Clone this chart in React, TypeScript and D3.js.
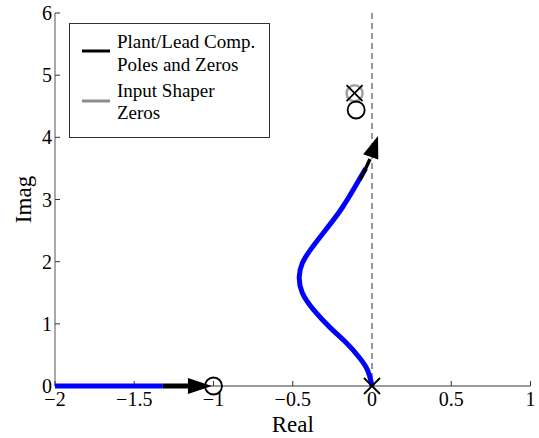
import React from "react";
import * as d3 from "d3";

const W = 539;
const H = 438;

const xTicks = [-2, -1.5, -1, -0.5, 0, 0.5, 1];
const xTickLabels = ["\u22122", "\u22121.5", "\u22121", "\u22120.5", "0", "0.5", "1"];
const yTicks = [0, 1, 2, 3, 4, 5, 6];
const yTickLabels = ["0", "1", "2", "3", "4", "5", "6"];

// complex branch of root locus (blue), from pole at origin
const locusReal = [0, -0.02, -0.075, -0.16, -0.26, -0.375, -0.45, -0.465, -0.445, -0.391, -0.29, -0.19, -0.085, -0.04];
const locusImag = [0, 0.25, 0.45, 0.7, 0.92, 1.23, 1.5, 1.76, 1.98, 2.19, 2.52, 2.84, 3.3, 3.5];
// arrow at end of complex branch
const arrowUpReal = [-0.075, -0.04, -0.013, 0.038];
const arrowUpImag = [3.32, 3.5, 3.65, 4.02];
// real-axis branch
const realBranchReal = [-2, -1.32];
const realArrowReal = [-1.32, -1.01];

// markers
const polesReal = [0, -0.11];
const polesImag = [0, 4.71];
const zerosReal = [-1, -0.1];
const zerosImag = [0, 4.44];
const shaperZerosReal = [-0.11];
const shaperZerosImag = [4.71];

const legendLabels = [["Plant/Lead Comp.", "Poles and Zeros"], ["Input Shaper", "Zeros"]];
const legendColors = ["#000000", "#8c8c8c"];

export default function App() {
  const x = d3.scaleLinear().domain([-2, 1]).range([55, 530.5]);
  const y = d3.scaleLinear().domain([0, 6]).range([386, 13]);

  const line = d3
    .line<[number, number]>()
    .x((d) => x(d[0]))
    .y((d) => y(d[1]))
    .curve(d3.curveBasis);

  const locusPts: [number, number][] = locusReal.map((r, i) => [r, locusImag[i]]);
  const arrowPts: [number, number][] = arrowUpReal.map((r, i) => [r, arrowUpImag[i]]);

  const arrowHead = (x0: number, y0: number, x1: number, y1: number, len: number, hw: number) => {
    const dx = x1 - x0;
    const dy = y1 - y0;
    const L = Math.sqrt(dx * dx + dy * dy);
    const ux = dx / L;
    const uy = dy / L;
    const bx = x1 - ux * len;
    const by = y1 - uy * len;
    const px = -uy;
    const py = ux;
    return `M${x1},${y1}L${bx + px * hw},${by + py * hw}L${bx - px * hw},${by - py * hw}Z`;
  };

  const n = arrowUpReal.length;
  const upHead = arrowHead(
    x(arrowUpReal[n - 2]),
    y(arrowUpImag[n - 2]),
    x(arrowUpReal[n - 1]),
    y(arrowUpImag[n - 1]),
    22,
    8
  );
  const realHead = arrowHead(x(realArrowReal[0]), y(0), x(realArrowReal[1]), y(0), 24, 8);
  const arrowLinePts = arrowPts.slice(0, n - 1);
  const arrowLine = d3
    .line<[number, number]>()
    .x((d) => x(d[0]))
    .y((d) => y(d[1]))
    .curve(d3.curveMonotoneY);

  const fontFam = "'Liberation Serif', 'Times New Roman', serif";
  const axisColor = "#7a7a7a";
  const mk = 8;

  return (
    <svg
      width={W}
      height={H}
      style={{ position: "absolute", left: 0, top: 0, background: "#fff" }}
      fontFamily={fontFam}
    >
      <rect x={0} y={0} width={W} height={H} fill="#fff" />
      {/* dashed line at real = 0 */}
      <line x1={x(0)} x2={x(0)} y1={y(6)} y2={y(0)} stroke="#333" strokeWidth={1} strokeDasharray="6,4" />

      {/* axes */}
      <line x1={x(-2)} x2={x(1)} y1={y(0)} y2={y(0)} stroke={axisColor} strokeWidth={1.5} />
      <line x1={x(-2)} x2={x(-2)} y1={y(0)} y2={y(6)} stroke="#555" strokeWidth={1} />
      {xTicks.map((t, i) => (
        <g key={"xt" + i}>
          <line x1={x(t)} x2={x(t)} y1={y(0)} y2={y(0) - 5} stroke="#333" strokeWidth={1} />
          <text x={x(t)} y={y(0) + 20} textAnchor="middle" fontSize={20} fill="#000">
            {xTickLabels[i]}
          </text>
        </g>
      ))}
      {yTicks.map((t, i) => (
        <g key={"yt" + i}>
          <line x1={x(-2)} x2={x(-2) + 5} y1={y(t)} y2={y(t)} stroke="#333" strokeWidth={1} />
          <text x={x(-2) - 3} y={y(t) + 7} textAnchor="end" fontSize={20} fill="#000">
            {yTickLabels[i]}
          </text>
        </g>
      ))}
      <text x={(x(-2) + x(1)) / 2} y={432} textAnchor="middle" fontSize={23} fill="#000">
        Real
      </text>
      <text
        transform={`translate(31,${(y(0) + y(6)) / 2}) rotate(-90)`}
        textAnchor="middle"
        fontSize={23}
        fill="#000"
      >
        Imag
      </text>

      {/* real axis branch */}
      <line
        x1={x(realBranchReal[0])}
        x2={x(realBranchReal[1])}
        y1={y(0)}
        y2={y(0)}
        stroke="#0000ff"
        strokeWidth={5}
      />
      <line
        x1={x(realArrowReal[0])}
        x2={x(realArrowReal[1]) - 20}
        y1={y(0)}
        y2={y(0)}
        stroke="#000"
        strokeWidth={5}
      />
      <path d={realHead} fill="#000" />

      {/* complex branch */}
      <path d={line(locusPts) || ""} fill="none" stroke="#0000ff" strokeWidth={5} strokeLinecap="butt" />
      <path d={arrowLine(arrowLinePts) || ""} fill="none" stroke="#000" strokeWidth={3.5} />
      <path d={upHead} fill="#000" />

      {/* shaper zeros (gray circles) */}
      {shaperZerosReal.map((r, i) => (
        <circle key={"sz" + i} cx={x(r)} cy={y(shaperZerosImag[i])} r={8} fill="none" stroke="#a0a0a0" strokeWidth={2.5} />
      ))}
      {/* zeros */}
      {zerosReal.map((r, i) => (
        <circle key={"z" + i} cx={x(r)} cy={y(zerosImag[i])} r={8.5} fill="none" stroke="#000" strokeWidth={1.8} />
      ))}
      {/* poles */}
      {polesReal.map((r, i) => {
        const cx = x(r);
        const cy = y(polesImag[i]);
        return (
          <g key={"p" + i} stroke="#000" strokeWidth={1.8}>
            <line x1={cx - mk} y1={cy - mk} x2={cx + mk} y2={cy + mk} />
            <line x1={cx - mk} y1={cy + mk} x2={cx + mk} y2={cy - mk} />
          </g>
        );
      })}

      {/* legend */}
      <rect x={69.5} y={23.5} width={200} height={114} fill="#fff" stroke="#333" strokeWidth={1} />
      {legendLabels.map((lbl, i) => (
        <g key={"lg" + i}>
          <line
            x1={82}
            x2={110}
            y1={51 + i * 50}
            y2={51 + i * 50}
            stroke={legendColors[i]}
            strokeWidth={3}
          />
          <text x={117} y={48 + i * 49} fontSize={19} fill="#000">
            {lbl[0]}
          </text>
          <text x={117} y={71 + i * 48} fontSize={19} fill="#000">
            {lbl[1]}
          </text>
        </g>
      ))}
    </svg>
  );
}
